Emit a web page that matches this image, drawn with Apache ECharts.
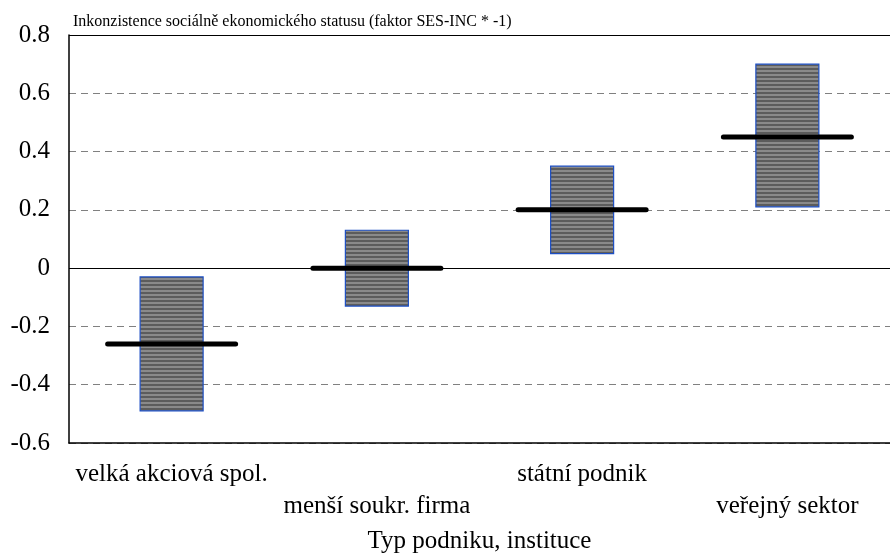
<!DOCTYPE html>
<html>
<head>
<meta charset="utf-8">
<script src="https://cdn.jsdelivr.net/npm/echarts@6/dist/echarts.min.js"></script>
<style>
html,body{margin:0;padding:0;background:#fff;}
#chart{width:890px;height:560px;}
</style>
</head>
<body>
<div id="chart"></div>
<script>
var categories = ['velká akciová spol.', 'menší soukr. firma', 'státní podnik', 'veřejný sektor'];
var boxLow = [-0.49, -0.13, 0.05, 0.21];
var boxHigh = [-0.03, 0.13, 0.35, 0.70];
var means = [-0.26, 0.00, 0.20, 0.45];

// striped gray fill
var pc = document.createElement('canvas');
pc.width = 4; pc.height = 4;
var ctx = pc.getContext('2d');
ctx.fillStyle = '#8a8a8a'; ctx.fillRect(0, 0, 4, 4);
ctx.fillStyle = '#5c5c5c'; ctx.fillRect(0, 0, 4, 2);

var chart = echarts.init(document.getElementById('chart'));

var boxData = boxLow.map(function (v, i) { return [i, v, boxHigh[i]]; });
var meanData = means.map(function (v, i) { return [i, v]; });

option = {
    animation: false,
    title: {
        text: 'Inkonzistence sociálně ekonomického statusu (faktor SES-INC * -1)',
        left: 68, top: 9,
        textStyle: {fontFamily: 'Liberation Serif', fontSize: 16, fontWeight: 'normal', color: '#000'}
    },
    grid: {left: 69, right: 0, top: 35, bottom: 117},
    xAxis: {
        type: 'category',
        data: categories,
        name: 'Typ podniku, instituce',
        nameLocation: 'middle',
        nameGap: 86,
        nameTextStyle: {fontFamily: 'Liberation Serif', fontSize: 25, color: '#000'},
        axisLine: {onZero: false, lineStyle: {color: '#000', width: 1.5}},
        axisTick: {show: false},
        axisLabel: {
            interval: 0,
            margin: 15,
            fontFamily: 'Liberation Serif', fontSize: 25, color: '#000',
            lineHeight: 32,
            formatter: function (v, i) { return i % 2 ? '\n' + v : v; }
        }
    },
    yAxis: {
        type: 'value',
        min: -0.6, max: 0.8, interval: 0.2,
        axisLine: {show: true, lineStyle: {color: '#000', width: 1.5}},
        axisTick: {show: false},
        axisLabel: {
            margin: 19,
            fontFamily: 'Liberation Serif', fontSize: 25, color: '#000',
            formatter: function (v) { return String(Math.round(v * 10) / 10); }
        },
        splitLine: {show: true, lineStyle: {color: '#808080', type: [7, 5], width: 1}}
    },
    series: [
        {
            type: 'custom',
            data: boxData,
            renderItem: function (params, api) {
                var x = api.value(0);
                var lo = api.coord([x, api.value(1)]);
                var hi = api.coord([x, api.value(2)]);
                var w = 63;
                return {
                    type: 'rect',
                    shape: {x: lo[0] - w / 2, y: hi[1], width: w, height: lo[1] - hi[1]},
                    style: {fill: {image: pc, repeat: 'repeat'}, stroke: '#1d4fc4', lineWidth: 1.2}
                };
            },
            markLine: {
                silent: true,
                symbol: 'none',
                label: {show: false},
                lineStyle: {color: '#000', type: 'solid', width: 1.2},
                data: [{yAxis: 0}, {yAxis: 0.8}]
            },
            z: 3
        },
        {
            type: 'custom',
            data: meanData,
            renderItem: function (params, api) {
                var p = api.coord([api.value(0), api.value(1)]);
                var w = 128;
                return {
                    type: 'line',
                    shape: {x1: p[0] - w / 2, y1: p[1], x2: p[0] + w / 2, y2: p[1]},
                    style: {stroke: '#000', lineWidth: 5, lineCap: 'round'}
                };
            },
            z: 4
        }
    ]
};
chart.setOption(option);
</script>
</body>
</html>
